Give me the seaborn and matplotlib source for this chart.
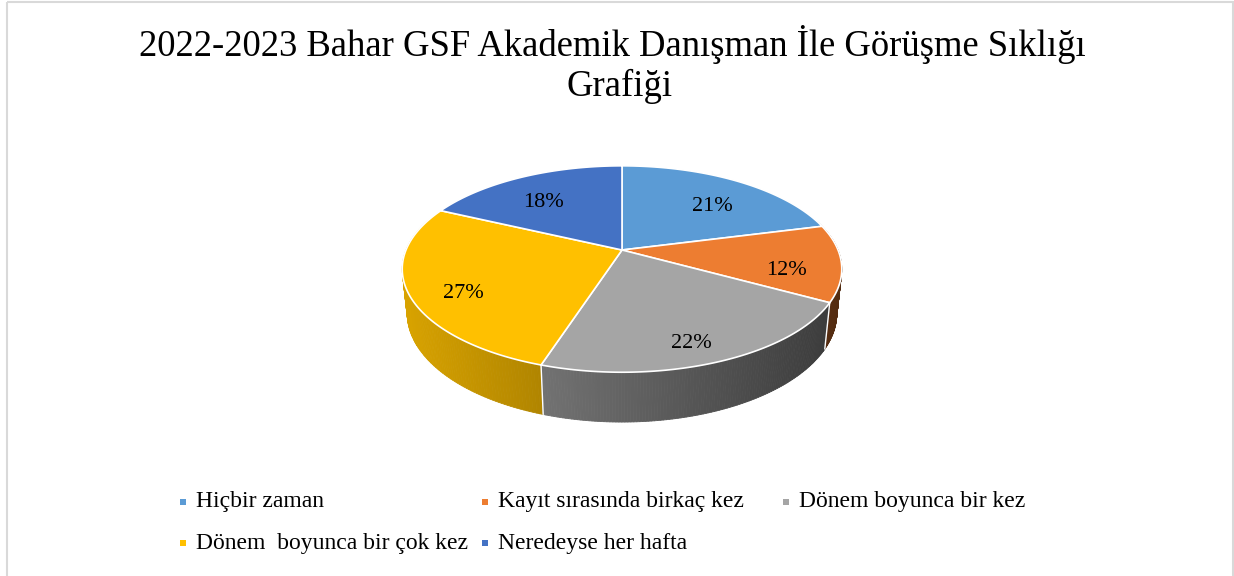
import numpy as np
import matplotlib
matplotlib.use("Agg")
import matplotlib.pyplot as plt
import seaborn as sns
from matplotlib.patches import Polygon, Rectangle
from matplotlib.collections import PolyCollection
from matplotlib.colors import to_rgb

# ---- data ----
categories = ["Hiçbir zaman", "Kayıt sırasında birkaç kez", "Dönem boyunca bir kez",
              "Dönem  boyunca bir çok kez", "Neredeyse her hafta"]
shares = [21, 12, 22, 27, 18]
pct_labels = ["21%", "12%", "22%", "27%", "18%"]
title_lines = ["2022-2023 Bahar GSF Akademik Danışman İle Görüşme Sıklığı", "Grafiği"]

sns.set_theme(style="white")
plt.rcParams["font.family"] = ["Liberation Serif", "DejaVu Serif"]
plt.rcParams["text.color"] = "black"
palette = sns.color_palette(["#5B9BD5", "#ED7D31", "#A5A5A5", "#FFC000", "#4472C4"])

# ---- simple perspective for the 3D pie ----
CX, CY = 622, 250          # screen position of the pie centre
F, D = 1039.0, 4.81        # focal length, camera distance
ELEV = np.arcsin(0.4615)
SE, CE = np.sin(ELEV), np.cos(ELEV)
H = 0.232                  # thickness of the disc


def proj(X, Y, Z=0.0):
    yc = Y * SE + Z * CE
    zc = D + Y * CE - Z * SE
    return CX + F * X / zc, CY - F * yc / zc


def wall_shade(sx):
    t = np.clip((sx - 402) / 441, 0, 1)
    return 0.85 - 0.5 * t


fig = plt.figure(figsize=(12.34, 5.76), dpi=100)
ax = fig.add_axes([0, 0, 1, 1])
ax.set_xlim(0, 1234)
ax.set_ylim(576, 0)
ax.axis("off")

edges = np.cumsum([0] + shares) / sum(shares) * 2 * np.pi

# side walls
quads, qcols, depth = [], [], []
for i in range(len(shares)):
    th = np.linspace(edges[i], edges[i + 1], 120)
    base = np.array(to_rgb(palette[i]))
    for a, b in zip(th[:-1], th[1:]):
        X0, Y0, X1, Y1 = np.sin(a), np.cos(a), np.sin(b), np.cos(b)
        if (Y0 + Y1) / 2 > 0.3:
            continue
        q = [proj(X0, Y0), proj(X1, Y1), proj(X1, Y1, -H), proj(X0, Y0, -H)]
        sx = (q[0][0] + q[1][0]) / 2
        quads.append(q)
        qcols.append(tuple(base * wall_shade(sx)))
        depth.append((Y0 + Y1) / 2)
order = np.argsort(depth)[::-1]
ax.add_collection(PolyCollection([quads[k] for k in order],
                                 facecolors=[qcols[k] for k in order],
                                 edgecolors=[qcols[k] for k in order], linewidths=0.6))

# white seams on the front wall
for a in edges[1:-1]:
    if np.cos(a) < 0:
        p0, p1 = proj(np.sin(a), np.cos(a)), proj(np.sin(a), np.cos(a), -H)
        ax.plot([p0[0], p1[0]], [p0[1], p1[1]], color="white", lw=1)

# top faces
for i in range(len(shares)):
    th = np.linspace(edges[i], edges[i + 1], 200)
    pts = [proj(0, 0)] + [proj(np.sin(a), np.cos(a)) for a in th]
    ax.add_patch(Polygon(pts, closed=True, facecolor=palette[i],
                         edgecolor="white", lw=1.2, joinstyle="round"))

# data labels
for i, lab in enumerate(pct_labels):
    mid = (edges[i] + edges[i + 1]) / 2
    x, y = proj(0.76 * np.sin(mid), 0.76 * np.cos(mid), -H / 4)
    ax.text(x, y, lab, ha="center", va="center", fontsize=16, color="black")

# title
ax.text(612, 44, title_lines[0], ha="center", va="center", fontsize=26.4, color="black")
ax.text(620, 86, title_lines[1], ha="center", va="center", fontsize=26.4, color="black")

# legend (Excel-style fixed columns)
for i, (cat, col) in enumerate(zip(categories, palette)):
    r, c = divmod(i, 3)
    mx, my = 183 + 301.5 * c, 502 + 41 * r
    ax.scatter([mx], [my], marker="s", s=18, color=col, linewidths=0)
    ax.text(mx + 13, my, cat, ha="left", va="center", fontsize=17, color="black")

# chart border
ax.add_patch(Rectangle((6.5, 1.5), 1226, 700, fill=False, edgecolor="#D9D9D9", lw=1.5))

fig.savefig("out.png", dpi=100)
